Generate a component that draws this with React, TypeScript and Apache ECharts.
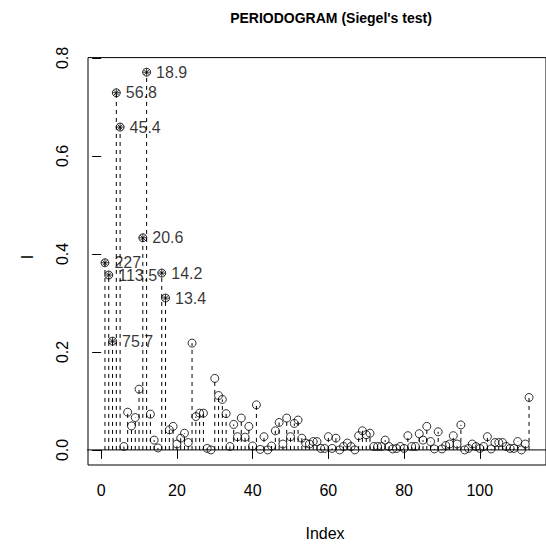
import React, { useEffect, useRef } from "react";
import * as echarts from "echarts";

// Periodogram ordinates I(k), k = 1..113
const periodogram: number[] = [
  0.382, 0.357, 0.222, 0.729, 0.659, 0.007, 0.077, 0.049, 0.066, 0.124,
  0.433, 0.771, 0.073, 0.020, 0.004, 0.361, 0.310, 0.041, 0.048, 0.012,
  0.024, 0.034, 0.015, 0.218, 0.068, 0.075, 0.075, 0.003, 0.000, 0.146,
  0.111, 0.103, 0.074, 0.007, 0.052, 0.027, 0.065, 0.026, 0.048, 0.008,
  0.092, 0.001, 0.027, 0.000, 0.008, 0.039, 0.056, 0.012, 0.065, 0.027,
  0.054, 0.061, 0.024, 0.014, 0.012, 0.017, 0.017, 0.003, 0.003, 0.027,
  0.003, 0.024, 0.000, 0.007, 0.014, 0.007, 0.000, 0.029, 0.039, 0.031,
  0.034, 0.007, 0.007, 0.007, 0.020, 0.007, 0.002, 0.003, 0.007, 0.003,
  0.029, 0.007, 0.007, 0.033, 0.020, 0.048, 0.017, 0.002, 0.037, 0.002,
  0.009, 0.012, 0.029, 0.012, 0.051, 0.000, 0.003, 0.012, 0.007, 0.003,
  0.007, 0.027, 0.002, 0.015, 0.015, 0.015, 0.007, 0.003, 0.003, 0.017,
  0.000, 0.012, 0.107,
];

// Significant frequencies (Siegel's test) and their periods
const starIndex: number[] = [1, 2, 3, 4, 5, 11, 12, 16, 17];
const starLabels: string[] = ["227", "113.5", "75.7", "56.8", "45.4", "20.6", "18.9", "14.2", "13.4"];

const xTicks: number[] = [0, 20, 40, 60, 80, 100];
const yTicks: number[] = [0, 0.2, 0.4, 0.6, 0.8];

const titleText = "PERIODOGRAM (Siegel's test)";
const xName = "Index";
const yName = "I";

const FONT = "'Liberation Sans', Arial, Helvetica, sans-serif";

export default function App() {
  const ref = useRef<HTMLDivElement>(null);

  useEffect(() => {
    if (!ref.current) return;
    const chart = echarts.init(ref.current, null, { renderer: "svg" });
    const pts = periodogram.map((v, i) => [i + 1, v]);
    const starData = starIndex.map((k, j) => ({
      value: [k, periodogram[k - 1]],
      label: { show: true, formatter: starLabels[j] },
    }));

    chart.setOption({
      animation: false,
      grid: {
        left: 88,
        right: -9.2,
        top: 57.6,
        bottom: 80,
        show: true,
        borderColor: "#000",
        borderWidth: 1,
        backgroundColor: "transparent",
        containLabel: false,
      },
      xAxis: {
        type: "value",
        min: -3.48,
        max: 117.48,
        splitLine: { show: false },
        axisLine: { show: false },
        axisTick: {
          show: true,
          length: 9,
          customValues: xTicks,
          lineStyle: { color: "#000", width: 1 },
        },
        axisLabel: {
          customValues: xTicks,
          margin: 17,
          color: "#000",
          fontSize: 16,
          fontFamily: FONT,
        },
      },
      yAxis: {
        type: "value",
        min: -0.0308,
        max: 0.8008,
        splitLine: { show: false },
        axisLine: { show: false },
        axisTick: {
          show: true,
          length: 9,
          customValues: yTicks,
          lineStyle: { color: "#000", width: 1 },
        },
        axisLabel: {
          customValues: yTicks,
          rotate: 90,
          margin: 18,
          color: "#000",
          fontSize: 16,
          fontFamily: FONT,
          formatter: (v: number) => v.toFixed(1),
        },
      },
      series: [
        {
          type: "line",
          data: [[-5.6, 0], [140, 0]],
          clip: false,
          symbol: "none",
          silent: true,
          lineStyle: { color: "#000", width: 1 },
          z: 1,
        },
        {
          type: "custom",
          data: pts,
          clip: false,
          silent: true,
          renderItem: (params: any, api: any) => {
            const x = api.value(0);
            const y = api.value(1);
            const p0 = api.coord([x, 0]);
            const p1 = api.coord([x, y]);
            return {
              type: "line",
              shape: { x1: p0[0], y1: p0[1], x2: p1[0], y2: p1[1] },
              style: { stroke: "#000", lineWidth: 1, lineDash: [4, 4] },
            };
          },
          z: 2,
        },
        {
          type: "scatter",
          data: pts,
          symbol: "circle",
          symbolSize: 8,
          silent: true,
          itemStyle: { color: "rgba(0,0,0,0)", borderColor: "#000", borderWidth: 1 },
          z: 3,
        },
        {
          type: "scatter",
          data: starData,
          symbol: "path://M0,-1L0,1M-1,0L1,0M-0.707,-0.707L0.707,0.707M-0.707,0.707L0.707,-0.707",
          symbolSize: 8,
          silent: true,
          itemStyle: { color: "rgba(0,0,0,0)", borderColor: "#000", borderWidth: 1 },
          label: {
            position: "right",
            distance: 5,
            fontSize: 16,
            color: "#000",
            fontFamily: FONT,
          },
          z: 4,
        },
      ],
      graphic: [
        {
          type: "text",
          x: 331,
          y: 18,
          style: {
            text: titleText,
            fontSize: 14,
            fontWeight: "bold",
            fontFamily: FONT,
            fill: "#000",
            align: "center",
            verticalAlign: "middle",
          },
        },
        {
          type: "text",
          x: 325,
          y: 533,
          style: {
            text: xName,
            fontSize: 16,
            fontFamily: FONT,
            fill: "#000",
            align: "center",
            verticalAlign: "middle",
          },
        },
        {
          type: "text",
          x: 27,
          y: 257,
          rotation: Math.PI / 2,
          style: {
            text: yName,
            fontSize: 16,
            fontFamily: FONT,
            fill: "#000",
            align: "center",
            verticalAlign: "middle",
          },
        },
      ],
    });

    return () => chart.dispose();
  }, []);

  return (
    <div
      ref={ref}
      style={{ position: "fixed", left: 0, top: 0, width: 546, height: 545, background: "#fff" }}
    />
  );
}
